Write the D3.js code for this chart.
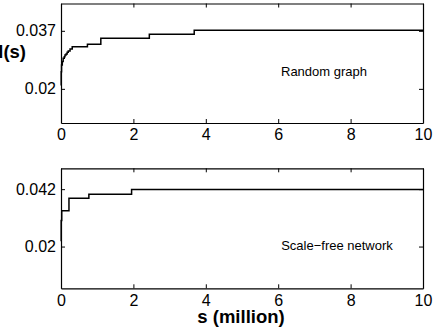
<!DOCTYPE html>
<html><head><meta charset="utf-8">
<script src="https://cdn.jsdelivr.net/npm/d3@7"></script>
<style>
body{margin:0;background:#fff;}
svg{display:block;font-family:"Liberation Sans",Arial,Helvetica,sans-serif;}
</style></head>
<body><svg id="c" width="436" height="328"></svg>
<script>
// Data (x in millions, y = l(s))
const randomX = [0, 0.005, 0.015, 0.036, 0.06, 0.09, 0.11, 0.14, 0.17, 0.2, 0.25, 0.31, 0.73, 1.10, 2.44, 3.68, 10];
const randomY = [0.021, 0.025, 0.027, 0.028, 0.029, 0.0294, 0.0299, 0.0302, 0.0307, 0.0311, 0.0317, 0.0323, 0.0331, 0.0348, 0.0360, 0.0372, 0.0372];
const scaleFreeX = [0, 0.005, 0.02, 0.22, 0.77, 1.95, 10];
const scaleFreeY = [0.022, 0.030, 0.0337, 0.0385, 0.0401, 0.0419, 0.0419];
const xTicks = [0, 2, 4, 6, 8, 10];
const topYTicks = [0.02, 0.037];
const bottomYTicks = [0.02, 0.042];
const topLabel = "Random graph";
const bottomLabel = "Scale\u2212free network";
const xTitle = "s (million)";
const yTitle = "l(s)";

const svg = d3.select("#c");
const left = 61, right = 423;
const x = d3.scaleLinear().domain([0, 10]).range([left, right]);

function panel(top, bottom, yDomain, yTicks, xs, ys, label, labelPos) {
  const y = d3.scaleLinear().domain(yDomain).range([bottom, top]);
  const g = svg.append("g");
  const fmt = d => d3.format("")(+d.toFixed(3));
  // bottom axis
  g.append("g").attr("transform", `translate(0,${bottom})`)
    .call(d3.axisBottom(x).tickValues(xTicks).tickSizeInner(-4).tickSizeOuter(0).tickPadding(6).tickFormat(d3.format("d")));
  // top axis
  g.append("g").attr("transform", `translate(0,${top})`)
    .call(d3.axisTop(x).tickValues(xTicks).tickSizeInner(-4).tickSizeOuter(0).tickFormat(""));
  // left axis
  g.append("g").attr("transform", `translate(${left},0)`)
    .call(d3.axisLeft(y).tickValues(yTicks).tickSizeInner(-4).tickSizeOuter(0).tickPadding(5).tickFormat(fmt));
  // right axis
  g.append("g").attr("transform", `translate(${right},0)`)
    .call(d3.axisRight(y).tickValues(yTicks).tickSizeInner(-4).tickSizeOuter(0).tickFormat(""));
  g.selectAll(".domain").attr("stroke", "#000").attr("stroke-width", 1.2);
  g.selectAll(".tick line").attr("stroke", "#000").attr("stroke-width", 1);
  g.selectAll(".tick text").attr("font-size", 16).attr("fill", "#000")
    .attr("font-family", "'Liberation Sans',Arial,Helvetica,sans-serif");
  const pts = xs.map((v, i) => [v, ys[i]]);
  const line = d3.line().x(d => x(d[0])).y(d => y(d[1])).curve(d3.curveStepAfter);
  g.append("path").datum(pts).attr("d", line).attr("fill", "none")
    .attr("stroke", "#000").attr("stroke-width", 1.5);
  g.append("text").attr("x", labelPos[0]).attr("y", labelPos[1])
    .attr("text-anchor", "middle").attr("font-size", 13).text(label);
  return y;
}

panel(3.5, 123, [0.01, 0.045], topYTicks, randomX, randomY, topLabel, [324, 76]);
panel(168.3, 288.3, [0.004, 0.05], bottomYTicks, scaleFreeX, scaleFreeY, bottomLabel, [337, 250]);

svg.append("text").attr("x", 241).attr("y", 323).attr("text-anchor", "middle")
  .attr("font-size", 18.5).attr("font-weight", "bold").text(xTitle);
svg.append("text").attr("x", 26).attr("y", 58).attr("text-anchor", "end")
  .attr("font-size", 18.5).attr("font-weight", "bold").text(yTitle);
</script></body></html>
